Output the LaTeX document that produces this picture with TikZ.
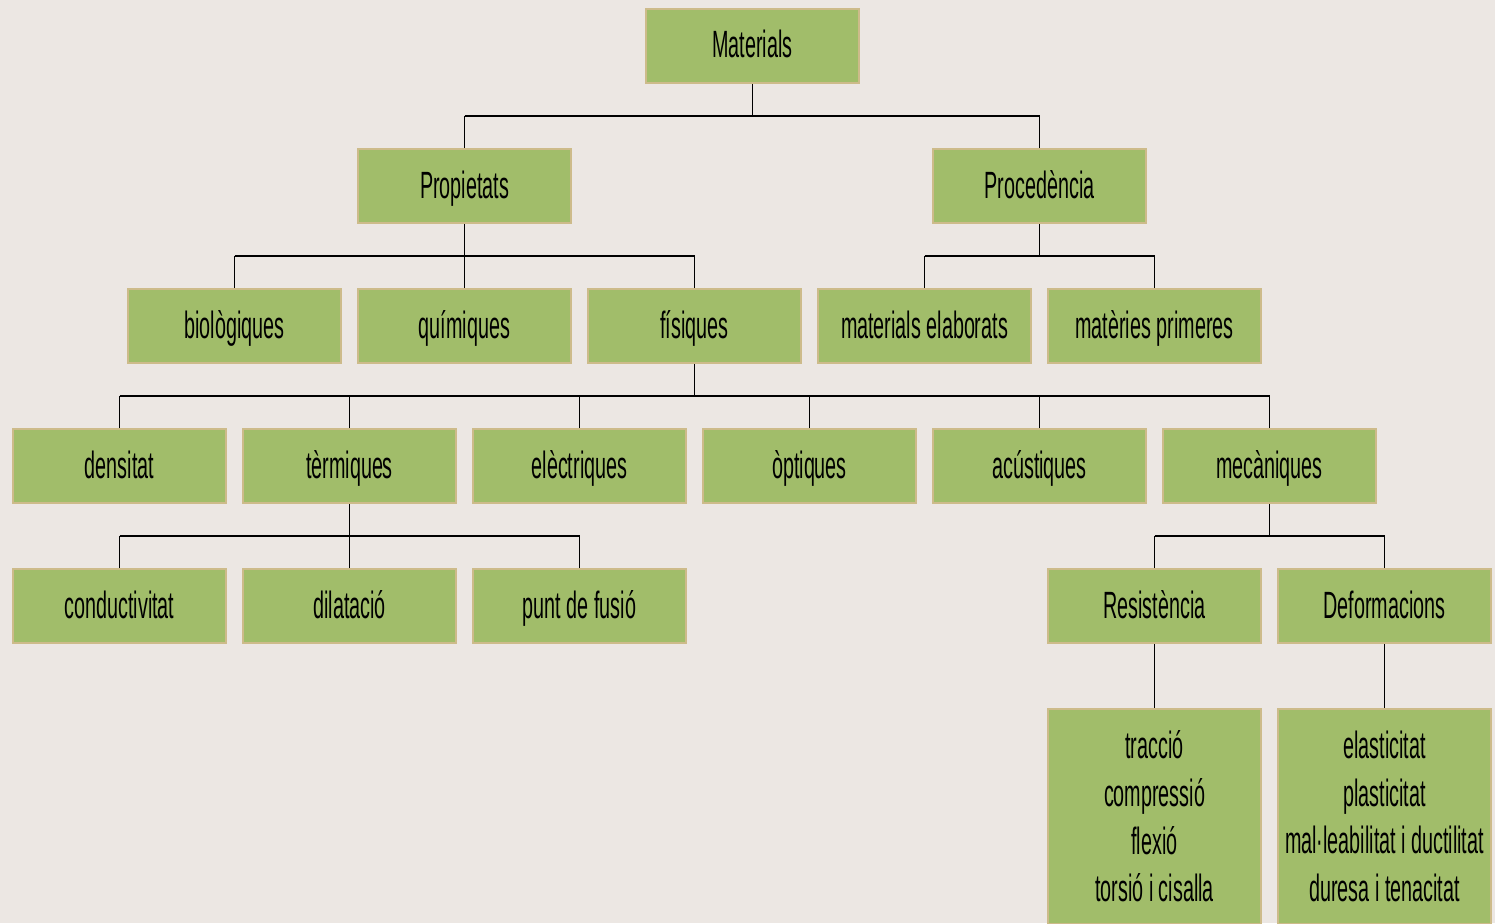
\documentclass[tikz,border=0pt]{standalone}
\usepackage{fontspec}
\setmainfont[FakeStretch=0.52]{Liberation Sans}
\usetikzlibrary{positioning,calc}
\definecolor{bgcol}{HTML}{ECE7E3}
\definecolor{boxfill}{HTML}{A1BD6A}
\definecolor{boxline}{HTML}{CDBB8A}

\begin{document}
\begin{tikzpicture}[
    x=1pt,y=1pt,
    node distance=140pt and 230pt,on grid,
    boxbase/.style={fill=boxfill,draw=boxline,line width=2pt,
      minimum width=213pt,inner sep=0pt,
      font=\fontsize{38}{47.6}\selectfont},
    box/.style={boxbase,minimum height=74pt,text height=27pt,text depth=3pt},
    listbox/.style={boxbase,minimum height=215pt,align=center},
    stem/.style={draw=black,line width=1.5pt},
    bus/.style={draw=black,line width=2.5pt}
  ]
  \clip (0,0) rectangle (1495,-923);
  \fill[bgcol] (0,0) rectangle (1495,-923);

  % levels
  \node[box] (mat) at (752.5,-46) {Materials};
  \node[box] (prop) [below left=140pt and 288pt of mat] {Propietats};
  \node[box] (proc) [below right=140pt and 287pt of mat] {Procedència};

  \node[box] (quim) [below=of prop] {químiques};
  \node[box] (biol) [left=of quim] {biològiques};
  \node[box] (fis)  [right=of quim] {físiques};
  \node[box] (elab) [below left=140pt and 115pt of proc] {materials elaborats};
  \node[box] (prim) [right=of elab] {matèries primeres};

  \node[box] (opt)  [below right=140pt and 115pt of fis] {òptiques};
  \node[box] (elec) [left=of opt] {elèctriques};
  \node[box] (term) [left=of elec] {tèrmiques};
  \node[box] (dens) [left=of term] {densitat};
  \node[box] (acus) [right=of opt] {acústiques};
  \node[box] (mec)  [right=of acus] {mecàniques};

  \node[box] (dil)  [below=of term] {dilatació};
  \node[box] (cond) [left=of dil] {conductivitat};
  \node[box] (fus)  [right=of dil] {punt de fusió};
  \node[box] (res)  [below left=140pt and 115pt of mec] {Resistència};
  \node[box] (def)  [right=of res] {Deformacions};

  \node[listbox] (resl) [below=210.5pt of res]
    {tracció\\compressió\\flexió\\torsió i cisalla};
  \node[listbox] (defl) [below=210.5pt of def]
    {elasticitat\\plasticitat\\mal·leabilitat i ductilitat\\duresa i tenacitat};

  % connectors
  \coordinate (b1) at ($(mat.south)!0.5!(prop.north)$);
  \draw[stem] (mat.south) -- (mat.south |- b1);
  \draw[bus] (prop.north |- b1) -- (proc.north |- b1);
  \foreach \c in {prop,proc} \draw[stem] (\c.north) -- (\c.north |- b1);

  \coordinate (b2) at ($(prop.south)!0.5!(quim.north)$);
  \draw[stem] (prop.south) -- (prop.south |- b2);
  \draw[bus] (biol.north |- b2) -- (fis.north |- b2);
  \foreach \c in {biol,quim,fis} \draw[stem] (\c.north) -- (\c.north |- b2);

  \draw[stem] (proc.south) -- (proc.south |- b2);
  \draw[bus] (elab.north |- b2) -- (prim.north |- b2);
  \foreach \c in {elab,prim} \draw[stem] (\c.north) -- (\c.north |- b2);

  \coordinate (b3) at ($(fis.south)!0.5!(opt.north)$);
  \draw[stem] (fis.south) -- (fis.south |- b3);
  \draw[bus] (dens.north |- b3) -- (mec.north |- b3);
  \foreach \c in {dens,term,elec,opt,acus,mec} \draw[stem] (\c.north) -- (\c.north |- b3);

  \coordinate (b4) at ($(term.south)!0.5!(dil.north)$);
  \draw[stem] (term.south) -- (term.south |- b4);
  \draw[bus] (cond.north |- b4) -- (fus.north |- b4);
  \foreach \c in {cond,dil,fus} \draw[stem] (\c.north) -- (\c.north |- b4);

  \draw[stem] (mec.south) -- (mec.south |- b4);
  \draw[bus] (res.north |- b4) -- (def.north |- b4);
  \foreach \c in {res,def} \draw[stem] (\c.north) -- (\c.north |- b4);

  \draw[stem] (res.south) -- (resl.north);
  \draw[stem] (def.south) -- (defl.north);
\end{tikzpicture}
\end{document}
